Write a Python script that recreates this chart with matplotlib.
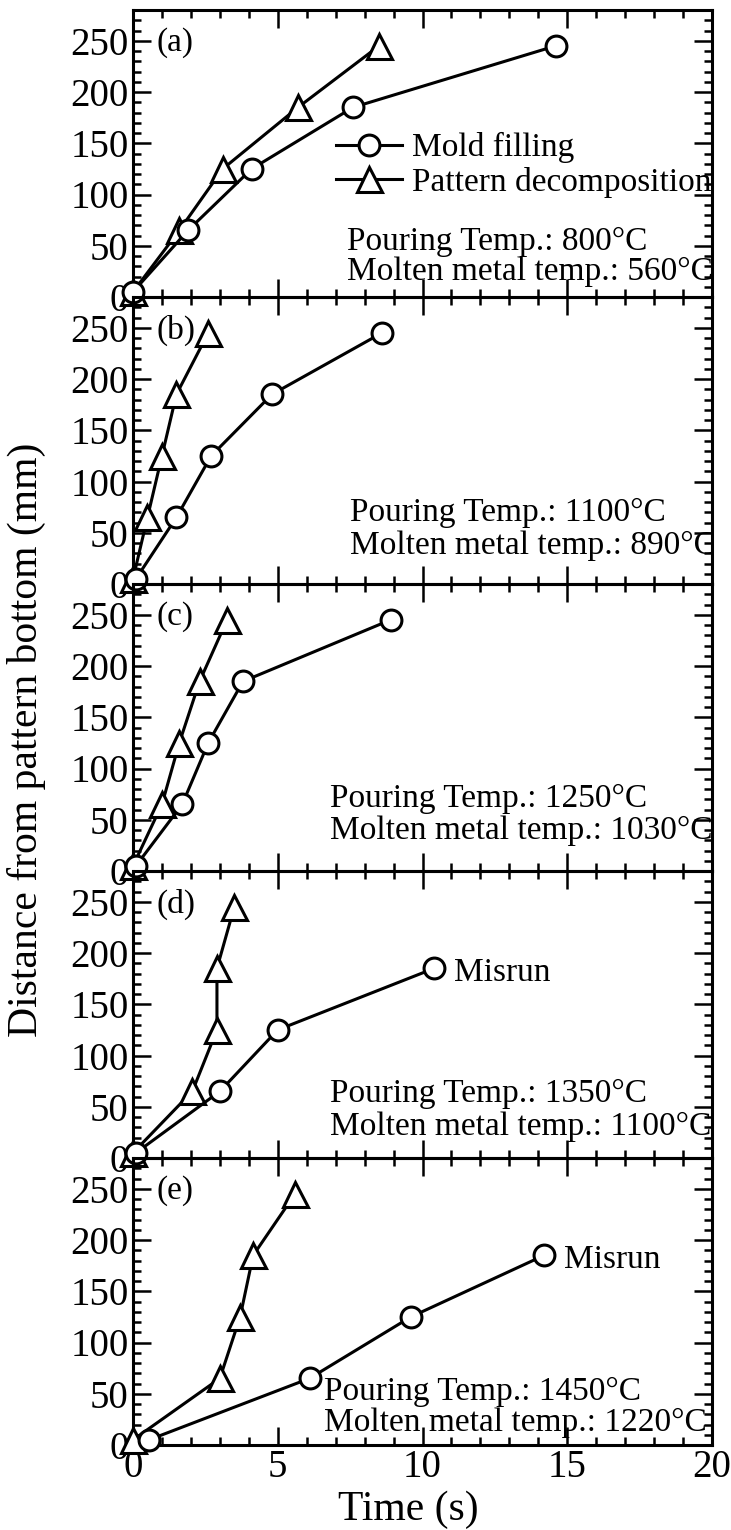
import matplotlib
matplotlib.use("Agg")
import matplotlib.pyplot as plt
from matplotlib.ticker import MultipleLocator
from matplotlib.lines import Line2D

plt.rcParams['font.family'] = ['Liberation Serif', 'DejaVu Serif']

# data
panel_labels = ['(a)', '(b)', '(c)', '(d)', '(e)']
pouring_temps = [800, 1100, 1250, 1350, 1450]
molten_temps = [560, 890, 1030, 1100, 1220]

fill_time = [
    [0.0, 1.9, 4.1, 7.6, 14.6],
    [0.1, 1.5, 2.7, 4.8, 8.6],
    [0.1, 1.7, 2.6, 3.8, 8.9],
    [0.1, 3.0, 5.0, 10.4],
    [0.55, 6.1, 9.6, 14.2],
]
fill_dist = [
    [5, 65, 125, 185, 245],
    [5, 65, 125, 185, 245],
    [5, 65, 125, 185, 245],
    [5, 65, 125, 185],
    [5, 65, 125, 185],
]
decomp_time = [
    [0.0, 1.6, 3.1, 5.7, 8.5],
    [0.0, 0.5, 1.0, 1.5, 2.6],
    [0.0, 1.0, 1.6, 2.3, 3.25],
    [0.0, 2.05, 2.9, 2.9, 3.5],
    [0.0, 3.0, 3.7, 4.15, 5.6],
]
decomp_dist = [5, 65, 125, 185, 245]
misrun = [False, False, False, True, True]

# where the temperature notes sit in each panel (data coords)
note_x = [7.4, 7.5, 6.8, 6.8, 6.6]
note_y1 = [54, 70, 70, 63, 52]
note_y2 = [25, 37, 39, 30, 22]

fig = plt.figure(figsize=(7.31, 15.3), dpi=100)
W, H = 731.0, 1530.0
left, right = 133, 712
top, bottom = 10, 1445
ph = (bottom - top) / 5.0

lw = 2.2
fs = 24
for i in range(5):
    ax = fig.add_axes([left / W, 1 - (top + (i + 1) * ph) / H,
                       (right - left) / W, ph / H])
    ax.patch.set_alpha(0)
    ax.plot(decomp_time[i], decomp_dist, color='k', lw=lw, marker='^',
            ms=18, mew=2.2, mfc='white', mec='k', zorder=3, clip_on=False)
    ax.plot(fill_time[i], fill_dist[i], color='k', lw=lw, marker='o',
            ms=15, mew=2.2, mfc='white', mec='k', zorder=3, clip_on=False)
    ax.set_xlim(0, 20)
    ax.set_ylim(0, 280)
    ax.xaxis.set_major_locator(MultipleLocator(5))
    ax.xaxis.set_minor_locator(MultipleLocator(1))
    ax.yaxis.set_minor_locator(MultipleLocator(10))
    ax.set_yticks([0, 50, 100, 150, 200, 250])
    ax.tick_params(which='both', direction='in', top=True, right=True,
                   width=1.8, labelsize=28, pad=3)
    ax.tick_params(which='major', length=13)
    ax.tick_params(which='minor', length=6)
    for s in ax.spines.values():
        s.set_linewidth(2.2)
    if i < 4:
        ax.tick_params(labelbottom=False)
    else:
        ax.set_xlabel('Time (s)', fontsize=30, labelpad=3)
        ax.xaxis.label.set_x(0.475)

    ax.text(0.041, 0.885, panel_labels[i], transform=ax.transAxes,
            fontsize=fs, va='center', ha='left')
    ax.text(note_x[i], note_y1[i], 'Pouring Temp.: %d°C' % pouring_temps[i],
            fontsize=fs, va='center', ha='left')
    ax.text(note_x[i], note_y2[i], 'Molten metal temp.: %d°C' % molten_temps[i],
            fontsize=fs, va='center', ha='left')
    if misrun[i]:
        ax.annotate('Misrun', (fill_time[i][-1], fill_dist[i][-1]),
                    xytext=(14, -3), textcoords='offset points',
                    fontsize=fs, va='center', ha='left')
    if i == 0:
        h1 = Line2D([], [], color='k', lw=lw, marker='o', ms=15, mew=2.2,
                    mfc='white', mec='k')
        h2 = Line2D([], [], color='k', lw=lw, marker='^', ms=18, mew=2.2,
                    mfc='white', mec='k')
        ax.legend([h1, h2], ['Mold filling', 'Pattern decomposition'],
                  loc='center left', bbox_to_anchor=(0.35, 0.46),
                  frameon=False, fontsize=fs, borderpad=0, borderaxespad=0,
                  handlelength=2.0, handletextpad=0.3, labelspacing=0.1)

fig.text(26 / W, 1 - 740 / H, 'Distance from pattern bottom (mm)',
         rotation=90, fontsize=30, ha='center', va='center')

fig.savefig('out.png', dpi=100)
